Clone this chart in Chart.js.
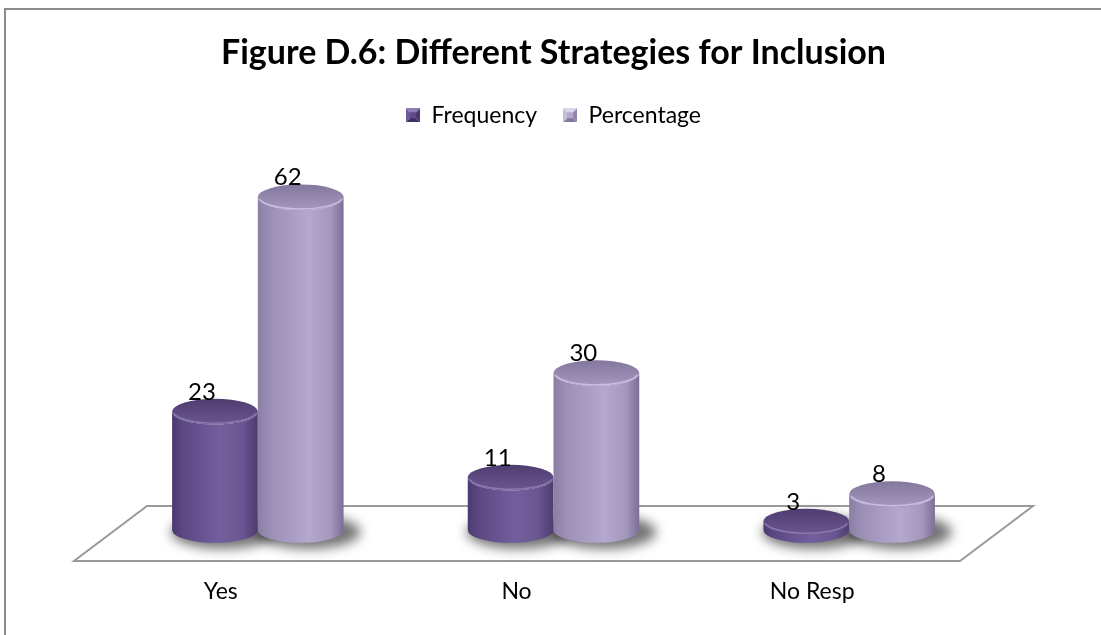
<!DOCTYPE html>
<html>
<head>
<meta charset="utf-8">
<script src="https://cdn.jsdelivr.net/npm/chart.js@4.4.0/dist/chart.umd.min.js"></script>
<style>
  html, body { margin: 0; padding: 0; background: #fff; }
  #wrap { width: 1101px; height: 635px; }
</style>
</head>
<body>
<div id="wrap"><canvas id="inclusionChart" width="1101" height="635"></canvas></div>
<script>
// Figure D.6 data
const categories = ['Yes', 'No', 'No Resp'];
const seriesNames = ['Frequency', 'Percentage'];
const frequency = [23, 11, 3];
const percentage = [62, 30, 8];
const yMax = 73;

const FONT = 'Lato, "Open Sans", sans-serif';

// cylinder colours, one palette per series
const palettes = [
    {
        body: [[0, '#4b3a6e'], [0.12, '#5a4783'], [0.55, '#745f9e'], [0.82, '#6a5692'], [1, '#4d3c70']],
        topBack: '#4f3d70', topFront: '#6a5790', rim: '#8a78b0'
    },
    {
        body: [[0, '#8b7ea4'], [0.15, '#9d90b8'], [0.6, '#b5a8ce'], [0.85, '#a497be'], [1, '#7c6f96']],
        topBack: '#84779e', topFront: '#a598bf', rim: '#c8bedd'
    }
];

// small bevelled squares for the legend
function makeIcon(base, light, side, dark, darker) {
    const c = document.createElement('canvas');
    c.width = 14; c.height = 14;
    const g = c.getContext('2d');
    const s = 14, m = 7;
    const tri = (pts, col) => {
        g.beginPath();
        g.moveTo(pts[0][0], pts[0][1]);
        pts.slice(1).forEach(p => g.lineTo(p[0], p[1]));
        g.closePath();
        g.fillStyle = col;
        g.fill();
    };
    tri([[0, 0], [s, 0], [m, m]], light);
    tri([[0, 0], [m, m], [0, s]], side);
    tri([[s, 0], [s, s], [m, m]], dark);
    tri([[0, s], [m, m], [s, s]], darker);
    g.fillStyle = base;
    g.fillRect(4, 4, 6, 6);
    return c;
}

const legendIcons = [
    makeIcon('#5f4b8b', '#8e7cb6', '#6d5999', '#4a3970', '#3e2f5f'),
    makeIcon('#b3a6cb', '#dcd4ea', '#c6bcdb', '#9285ad', '#85789f')
];

function drawCylinder(ctx, cx, w, topY, baseY, ry, pal) {
    const rx = w / 2, left = cx - rx, right = cx + rx;
    const body = ctx.createLinearGradient(left, 0, right, 0);
    pal.body.forEach(([o, c]) => body.addColorStop(o, c));
    ctx.beginPath();
    ctx.moveTo(left, topY);
    ctx.lineTo(left, baseY);
    ctx.ellipse(cx, baseY, rx, ry, 0, Math.PI, 0, true);
    ctx.lineTo(right, topY);
    ctx.ellipse(cx, topY, rx, ry, 0, 0, Math.PI, false);
    ctx.closePath();
    ctx.fillStyle = body;
    ctx.fill();

    const top = ctx.createLinearGradient(0, topY - ry, 0, topY + ry);
    top.addColorStop(0, pal.topBack);
    top.addColorStop(1, pal.topFront);
    ctx.beginPath();
    ctx.ellipse(cx, topY, rx, ry, 0, 0, Math.PI * 2);
    ctx.fillStyle = top;
    ctx.fill();

    ctx.beginPath();
    ctx.ellipse(cx, topY, rx - 1.5, ry - 1.2, 0, 0.15, Math.PI - 0.15);
    ctx.strokeStyle = pal.rim;
    ctx.lineWidth = 1.5;
    ctx.stroke();
}

const cylinderPlugin = {
    id: 'cylinders',
    beforeDraw(chart) {
        const ctx = chart.ctx;
        ctx.save();
        ctx.fillStyle = '#fff';
        ctx.fillRect(0, 0, chart.width, chart.height);
        // outer frame
        ctx.strokeStyle = '#8c8c8c';
        ctx.lineWidth = 2;
        ctx.beginPath();
        ctx.moveTo(5, chart.height);
        ctx.lineTo(5, 9);
        ctx.lineTo(chart.width, 9);
        ctx.stroke();
        ctx.restore();
    },
    beforeDatasetsDraw(chart) {
        const ctx = chart.ctx;
        const { left, right, bottom } = chart.chartArea;
        // floor
        ctx.save();
        ctx.beginPath();
        ctx.moveTo(left + 37, bottom - 32);
        ctx.lineTo(right + 36, bottom - 32);
        ctx.lineTo(right - 37, bottom + 23);
        ctx.lineTo(left - 36, bottom + 23);
        ctx.closePath();
        ctx.fillStyle = '#fff';
        ctx.fill();
        ctx.strokeStyle = '#9a9a9a';
        ctx.lineWidth = 2;
        ctx.stroke();

        // soft shadows under the cylinders
        ctx.filter = 'blur(6px)';
        ctx.fillStyle = 'rgba(0,0,0,0.55)';
        chart.data.datasets.forEach((ds, di) => {
            chart.getDatasetMeta(di).data.forEach(bar => {
                const rx = bar.width / 2, ry = bar.width * 0.15;
                ctx.beginPath();
                ctx.ellipse(bar.x + 8, bottom - 6, rx + 9, ry + 4, 0, 0, Math.PI * 2);
                ctx.fill();
            });
        });
        ctx.restore();
    },
    afterDatasetsDraw(chart) {
        const ctx = chart.ctx;
        const bottom = chart.chartArea.bottom;
        ctx.save();
        categories.forEach((c, i) => {
            chart.data.datasets.forEach((ds, di) => {
                const bar = chart.getDatasetMeta(di).data[i];
                const ry = bar.width * 0.15;
                drawCylinder(ctx, bar.x, bar.width, bar.y, bottom - 8, ry, palettes[di]);
            });
        });
        // value labels
        ctx.fillStyle = '#000';
        ctx.font = '24px ' + FONT;
        ctx.textAlign = 'center';
        ctx.textBaseline = 'alphabetic';
        chart.data.datasets.forEach((ds, di) => {
            chart.getDatasetMeta(di).data.forEach((bar, i) => {
                const ry = bar.width * 0.15;
                ctx.fillText(String(ds.data[i]), bar.x - 13, bar.y - ry + 1);
            });
        });
        ctx.restore();
    }
};

new Chart(document.getElementById('inclusionChart'), {
    type: 'bar',
    data: {
        labels: categories,
        datasets: [
            { label: seriesNames[0], data: frequency, backgroundColor: 'rgba(0,0,0,0)', borderWidth: 0 },
            { label: seriesNames[1], data: percentage, backgroundColor: 'rgba(0,0,0,0)', borderWidth: 0 }
        ]
    },
    options: {
        responsive: false,
        animation: false,
        devicePixelRatio: 1,
        categoryPercentage: 0.58,
        barPercentage: 1.0,
        layout: { padding: { left: 110, right: 104, top: 0, bottom: 0 } },
        plugins: {
            title: {
                display: true,
                text: 'Figure D.6: Different Strategies for Inclusion',
                color: '#000',
                font: { family: FONT, size: 34, weight: 'bold' },
                padding: { top: 33, bottom: 4 }
            },
            legend: {
                display: true,
                position: 'top',
                labels: {
                    usePointStyle: true,
                    boxWidth: 14,
                    boxHeight: 14,
                    padding: 26,
                    color: '#000',
                    font: { family: FONT, size: 23 },
                    generateLabels: () => seriesNames.map((name, i) => ({
                        text: name,
                        pointStyle: legendIcons[i],
                        fillStyle: 'rgba(0,0,0,0)',
                        strokeStyle: 'rgba(0,0,0,0)',
                        lineWidth: 0,
                        hidden: false,
                        datasetIndex: i,
                        fontColor: '#000'
                    }))
                }
            },
            tooltip: { enabled: false }
        },
        scales: {
            x: {
                grid: { display: false, drawTicks: false },
                border: { display: false },
                ticks: {
                    color: '#000',
                    font: { family: FONT, size: 23 },
                    padding: 40,
                    labelOffset: -37
                },
                afterFit(scale) { scale.height = 97; }
            },
            y: {
                display: false,
                min: 0,
                max: yMax
            }
        }
    },
    plugins: [cylinderPlugin]
});
</script>
</body>
</html>
